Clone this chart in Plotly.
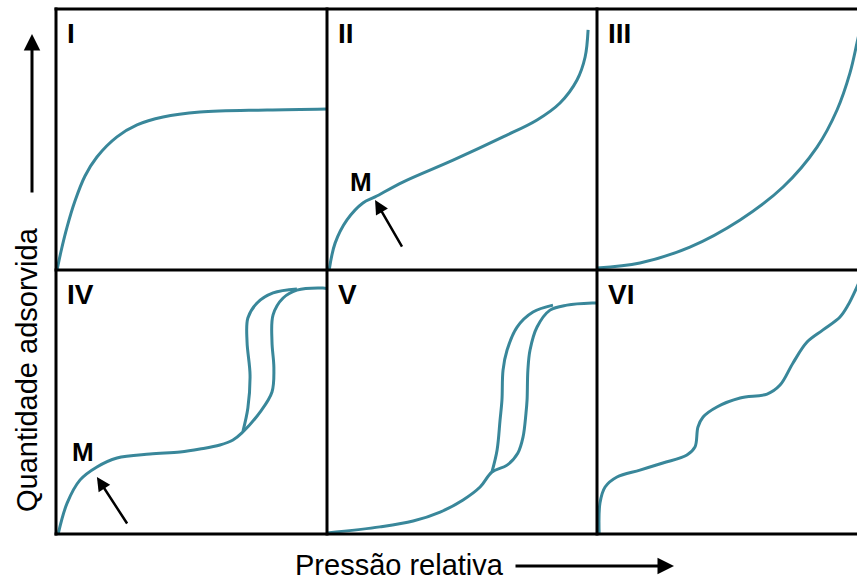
import plotly.graph_objects as go

W, H = 857, 580
TEAL = "#39879a"
FONT = "Arial, Liberation Sans, sans-serif"

# Type I isotherm (relative pressure, amount adsorbed) in panel units
I_P = [0.004, 0.018, 0.041, 0.070, 0.107, 0.151, 0.225, 0.299, 0.395, 0.531, 0.779, 1.0]
I_Q = [0.0, 0.069, 0.165, 0.264, 0.360, 0.433, 0.510, 0.556, 0.586, 0.605, 0.613, 0.617]

# Type II
II_P = [0.008, 0.030, 0.074, 0.133, 0.178, 0.281, 0.467, 0.652, 0.778, 0.863, 0.926, 0.956, 0.967]
II_Q = [0.0, 0.103, 0.192, 0.257, 0.280, 0.337, 0.421, 0.510, 0.575, 0.640, 0.728, 0.816, 0.920]

# Type III
III_P = [0.0, 0.159, 0.344, 0.530, 0.689, 0.815, 0.889, 0.937, 0.963, 0.99]
III_Q = [0.008, 0.027, 0.088, 0.192, 0.318, 0.471, 0.613, 0.755, 0.870, 1.0]

# Type IV: adsorption branch and desorption branch
IV_ADS_P = [0.008, 0.041, 0.089, 0.151, 0.225, 0.347, 0.458, 0.531, 0.605, 0.653, 0.686, 0.753,
            0.797, 0.804, 0.797, 0.801, 0.838, 0.889, 0.985, 1.0]
IV_ADS_Q = [0.0, 0.117, 0.205, 0.254, 0.288, 0.303, 0.311, 0.322, 0.337, 0.356, 0.383, 0.462,
            0.538, 0.629, 0.727, 0.830, 0.894, 0.924, 0.932, 0.930]
IV_DES_P = [0.889, 0.801, 0.742, 0.708, 0.705, 0.716, 0.708, 0.690]
IV_DES_Q = [0.928, 0.913, 0.875, 0.818, 0.727, 0.602, 0.477, 0.390]

# Type V: adsorption branch and desorption branch
V_ADS_P = [0.0, 0.196, 0.319, 0.419, 0.504, 0.567, 0.611, 0.667, 0.707, 0.726, 0.737,
           0.741, 0.744, 0.752, 0.778, 0.826, 0.889, 0.985, 1.0]
V_ADS_Q = [0.004, 0.027, 0.049, 0.083, 0.129, 0.178, 0.235, 0.261, 0.307, 0.367, 0.458,
           0.508, 0.621, 0.697, 0.784, 0.848, 0.867, 0.875, 0.875]
V_DES_P = [0.837, 0.763, 0.704, 0.667, 0.652, 0.648, 0.641, 0.630, 0.611]
V_DES_Q = [0.867, 0.841, 0.784, 0.697, 0.621, 0.508, 0.432, 0.318, 0.235]

# Type VI (stepwise)
VI_P = [0.008, 0.011, 0.030, 0.074, 0.159, 0.244, 0.333, 0.363, 0.374, 0.393, 0.444, 0.530,
        0.630, 0.678, 0.726, 0.778, 0.837, 0.900, 0.930, 0.963, 0.99]
VI_Q = [0.0, 0.117, 0.178, 0.216, 0.242, 0.269, 0.299, 0.330, 0.405, 0.443, 0.481, 0.515,
        0.530, 0.564, 0.648, 0.727, 0.773, 0.822, 0.867, 0.936, 1.0]

PANEL_LABELS = ["I", "II", "III", "IV", "V", "VI"]
X_TITLE = "Pressão relativa"
Y_TITLE = "Quantidade adsorvida"

# Grid geometry (pixels)
COL_EDGES = [56, 327, 597, 867]
ROW_EDGES = [9, 270, 534]


def px_x(p):
    return p / W


def px_y(p):
    return 1 - p / H


fig = go.Figure()

panels = [
    [(I_P, I_Q)],
    [(II_P, II_Q)],
    [(III_P, III_Q)],
    [(IV_ADS_P, IV_ADS_Q), (IV_DES_P, IV_DES_Q)],
    [(V_ADS_P, V_ADS_Q), (V_DES_P, V_DES_Q)],
    [(VI_P, VI_Q)],
]

for k, curves in enumerate(panels):
    r, c = divmod(k, 3)
    idx = "" if k == 0 else str(k + 1)
    x0, x1 = COL_EDGES[c], COL_EDGES[c + 1]
    y0, y1 = ROW_EDGES[r], ROW_EDGES[r + 1]
    # last column runs past the page edge
    vis_x1 = min(x1, W)
    xr = [0, (vis_x1 - x0) / (x1 - x0)]
    axis_common = dict(showgrid=False, zeroline=False, showticklabels=False, ticks="",
                       showline=False, fixedrange=True)
    fig.update_layout(**{
        f"xaxis{idx}": dict(domain=[px_x(x0), px_x(vis_x1)], range=xr, anchor=f"y{idx}", **axis_common),
        f"yaxis{idx}": dict(domain=[px_y(y1), px_y(y0)], range=[0, 1], anchor=f"x{idx}", **axis_common),
    })
    for (p, q) in curves:
        fig.add_trace(go.Scatter(x=p, y=q, mode="lines", xaxis=f"x{idx}", yaxis=f"y{idx}",
                                 line=dict(color=TEAL, width=3, shape="spline", smoothing=1),
                                 hoverinfo="skip", showlegend=False))
    fig.add_annotation(text=f"<b>{PANEL_LABELS[k]}</b>", xref="paper", yref="paper",
                       x=px_x(x0 + 9), y=px_y(y0 + 24), xanchor="left", yanchor="middle",
                       showarrow=False, font=dict(family=FONT, size=28, color="black"))

# Frame lines
shapes = []
for yy in ROW_EDGES:
    shapes.append(dict(type="line", xref="paper", yref="paper", x0=px_x(COL_EDGES[0]) - 0.0017,
                       x1=1.01, y0=px_y(yy), y1=px_y(yy), line=dict(color="black", width=3)))
for xx in COL_EDGES[:3]:
    shapes.append(dict(type="line", xref="paper", yref="paper", x0=px_x(xx), x1=px_x(xx),
                       y0=px_y(ROW_EDGES[0]) + 0.0026, y1=px_y(ROW_EDGES[-1]) - 0.0026,
                       line=dict(color="black", width=3)))
fig.update_layout(shapes=shapes)

# Monolayer point markers "M" with arrows
for xa, ya, tip, tail, lab in [("x2", "y2", (0.178, 0.268), (0.281, 0.084), (0.125, 0.337)),
                               ("x4", "y4", (0.151, 0.216), (0.266, 0.034), (0.100, 0.310))]:
    fig.add_annotation(x=tip[0], y=tip[1], ax=tail[0], ay=tail[1], xref=xa, yref=ya,
                       axref=xa, ayref=ya, showarrow=True, arrowhead=2, arrowsize=1.1,
                       arrowwidth=2.5, arrowcolor="black", text="")
    fig.add_annotation(x=lab[0], y=lab[1], xref=xa, yref=ya, text="<b>M</b>", showarrow=False,
                       xanchor="center", yanchor="middle",
                       font=dict(family=FONT, size=26, color="black"))

# Axis titles with direction arrows
fig.add_annotation(text=X_TITLE, xref="paper", yref="paper", x=px_x(399), y=px_y(565),
                   xanchor="center", yanchor="middle",
                   showarrow=False, font=dict(family=FONT, size=29, color="black"))
fig.add_annotation(x=px_x(674), y=px_y(566), ax=-160, ay=0, xref="paper", yref="paper",
                   showarrow=True, arrowhead=2, arrowsize=1.1, arrowwidth=3, arrowcolor="black", text="")
fig.add_annotation(text=Y_TITLE, xref="paper", yref="paper", x=px_x(27), y=px_y(370),
                   xanchor="center", yanchor="middle",
                   textangle=-90, showarrow=False, font=dict(family=FONT, size=29, color="black"))
fig.add_annotation(x=px_x(32), y=px_y(34), ax=0, ay=160, xref="paper", yref="paper",
                   showarrow=True, arrowhead=2, arrowsize=1.1, arrowwidth=3, arrowcolor="black", text="")

fig.update_layout(width=W, height=H, margin=dict(l=0, r=0, t=0, b=0),
                  paper_bgcolor="white", plot_bgcolor="rgba(0,0,0,0)")

fig.write_html("out.html")
